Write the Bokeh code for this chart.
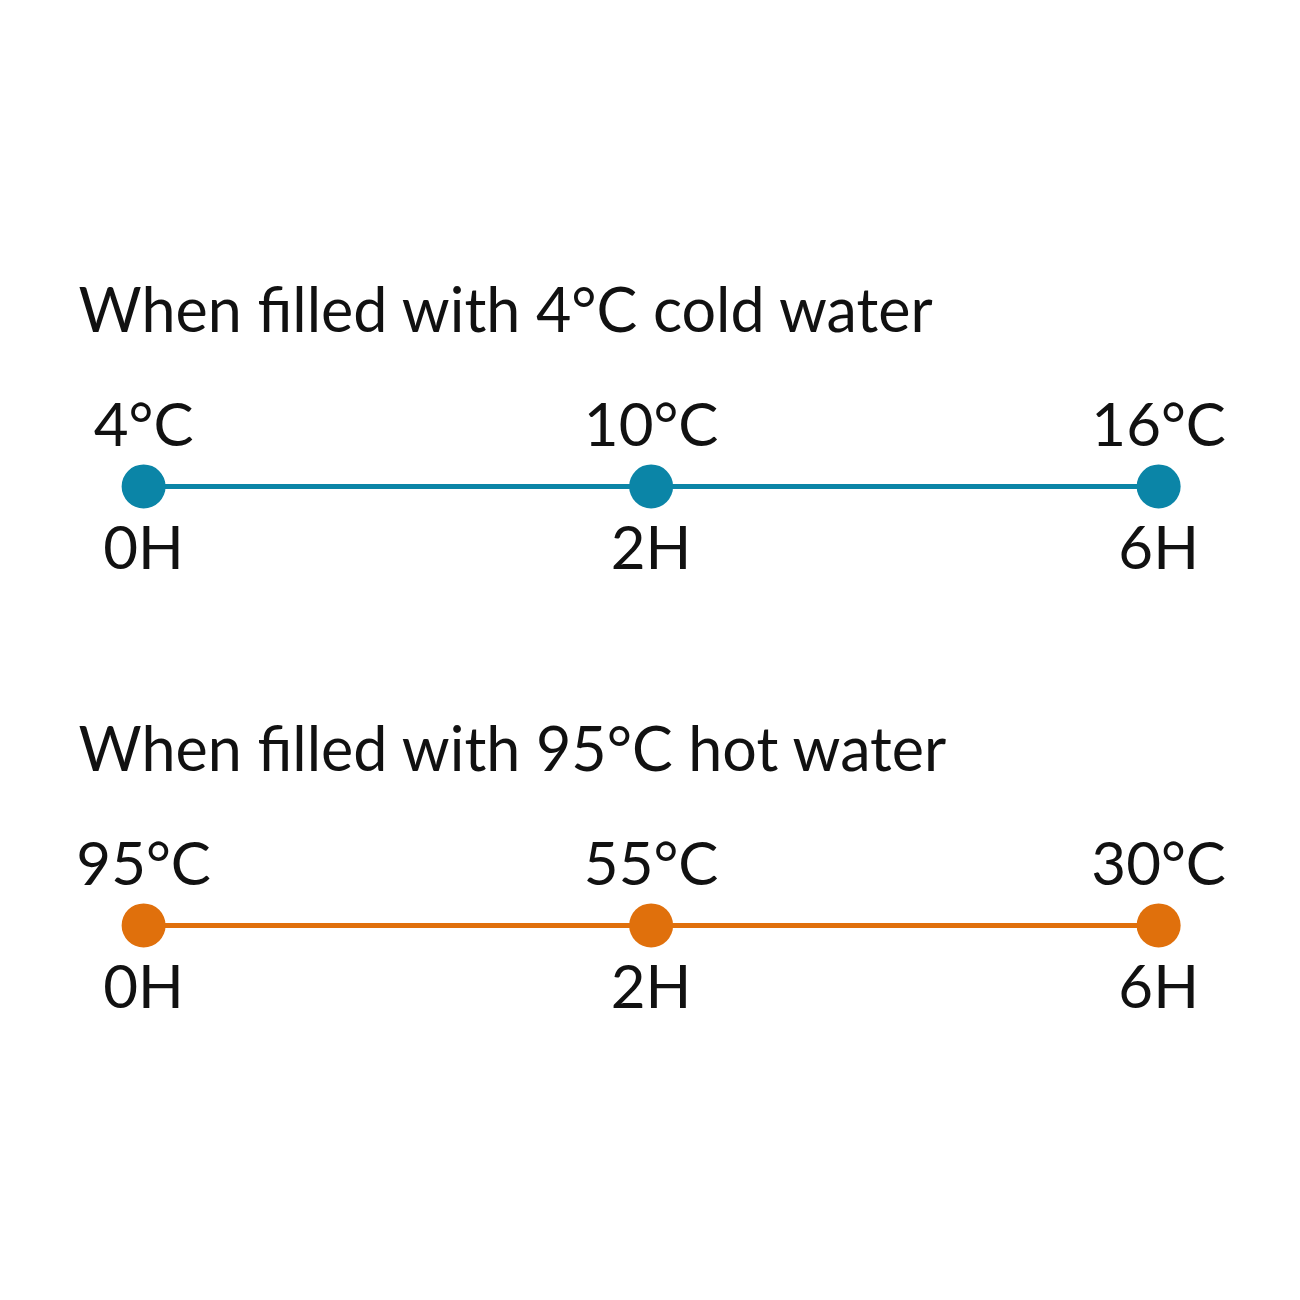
from bokeh.core.properties import value
from bokeh.embed import file_html
from bokeh.models import ColumnDataSource, Range1d
from bokeh.plotting import figure
from bokeh.resources import INLINE

# chart data
hours = ["0H", "2H", "6H"]
cold_temps = [4, 10, 16]
hot_temps = [95, 55, 30]
titles = ["When filled with 4°C cold water", "When filled with 95°C hot water"]
colors = ["#0b85a7", "#e0700c"]

FONT = value("Lato")
FS = "60px"

p = figure(width=1284, height=1284, output_backend="svg", toolbar_location=None,
           x_range=Range1d(-0.282, 2.248), y_range=Range1d(1.818, -1.107),
           min_border=0)
p.axis.visible = False
p.grid.visible = False
p.outline_line_color = None
p.background_fill_color = "white"
p.border_fill_color = "white"

for row, (temps, color, title) in enumerate(zip([cold_temps, hot_temps], colors, titles)):
    src = ColumnDataSource(dict(
        x=list(range(len(hours))),
        y=[row] * len(hours),
        temp=[f"{t}°C" for t in temps],
        hour=hours,
    ))
    p.line("x", "y", source=src, line_color=color, line_width=5)
    p.scatter("x", "y", source=src, size=44, fill_color=color, line_color=None)
    # temperature above each dot
    p.text("x", "y", text="temp", source=src, text_align="center",
           text_baseline="alphabetic", y_offset=-63, text_font=FONT,
           text_font_size=FS, text_color="#111111")
    # elapsed hours below each dot
    p.text("x", "y", text="hour", source=src, text_align="center",
           text_baseline="alphabetic", y_offset=60, text_font=FONT,
           text_font_size=FS, text_color="#111111")
    # row title
    p.text(x=[0], y=[row], text=[title], text_align="left",
           text_baseline="alphabetic", x_offset=-65, y_offset=-178,
           text_font=FONT, text_font_size="61px", text_color="#111111")

open("out.html", "w").write(file_html(p, INLINE))
